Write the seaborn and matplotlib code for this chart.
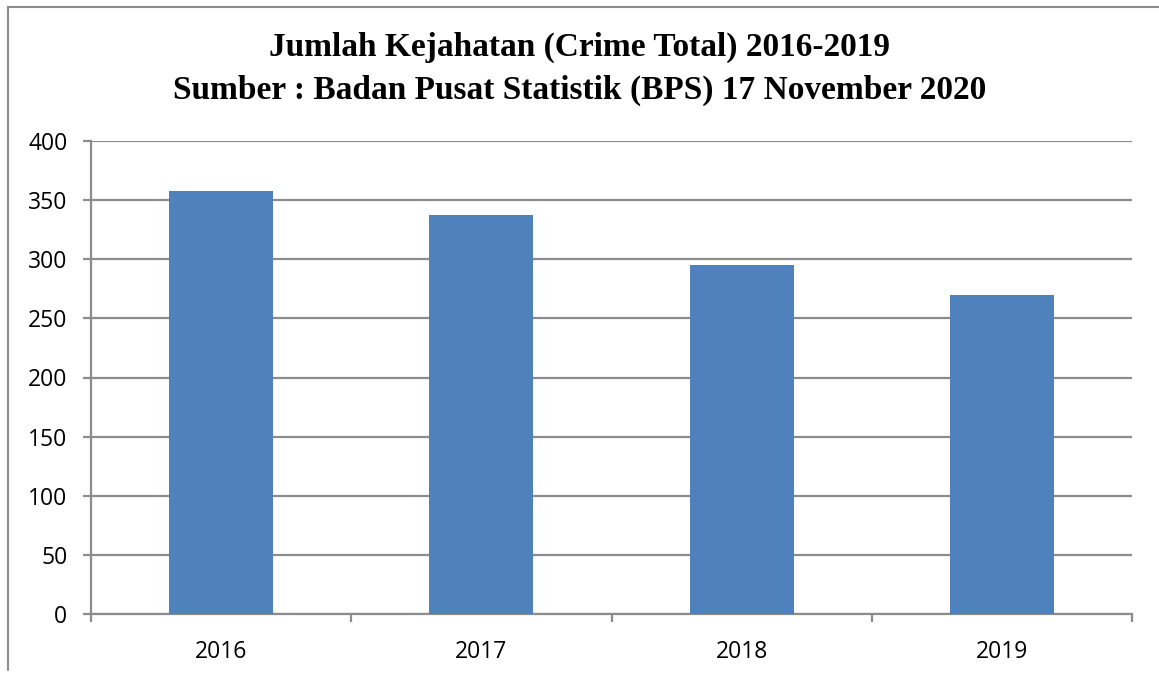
import matplotlib
matplotlib.use("Agg")
import matplotlib.pyplot as plt
import seaborn as sns
import pandas as pd
from matplotlib.lines import Line2D

years = ["2016", "2017", "2018", "2019"]
totals = [358, 337, 295, 270]
title_lines = ["Jumlah Kejahatan (Crime Total) 2016-2019",
               "Sumber : Badan Pusat Statistik (BPS) 17 November 2020"]

sns.set_style("white")
plt.rcParams['font.family'] = ['Open Sans', 'DejaVu Sans']

df = pd.DataFrame({"year": years, "total": totals})

fig = plt.figure(figsize=(11.59, 6.74), dpi=100)
ax = fig.add_axes([91/1159, 1-614/674, (1132-91)/1159, (614-141)/674])

sns.barplot(data=df, x="year", y="total", color="#4F81BD", saturation=1,
            width=0.4, ax=ax, zorder=3, linewidth=0, edgecolor="none")

ax.set_ylim(0, 400)
ax.set_xlim(-0.5, 3.5)
ax.set_yticks(range(0, 401, 50))
ax.yaxis.grid(True, color="#8C8C8C", linewidth=1.6, zorder=0)
ax.set_axisbelow(True)

for s in ["top", "right"]:
    ax.spines[s].set_visible(False)
for s in ["left", "bottom"]:
    ax.spines[s].set_color("#8C8C8C")
    ax.spines[s].set_linewidth(1.6)

ax.set_xticks([-0.5, 0.5, 1.5, 2.5, 3.5])
ax.set_xticklabels([])
ax.set_xticks([0, 1, 2, 3], minor=True)
ax.set_xticklabels(years, minor=True, fontsize=16.5, color="black")
ax.tick_params(axis="x", which="major", length=6, width=1.6, color="#8C8C8C", direction="out", bottom=True)
ax.tick_params(axis="x", which="minor", length=0, pad=19, bottom=True)
ax.tick_params(axis="y", length=6, width=1.6, color="#8C8C8C", direction="out", left=True,
               labelsize=16.5, labelcolor="black", pad=11)
ax.set_xlabel("")
ax.set_ylabel("")

fig.text(0.5, 1-47/674, title_lines[0], ha="center", va="center", color="black",
         fontsize=24, fontweight="bold", family="Liberation Serif")
fig.text(0.5, 1-90/674, title_lines[1], ha="center", va="center", color="black",
         fontsize=24, fontweight="bold", family="Liberation Serif")

fig.add_artist(Line2D([8/1159, 8/1159], [1-670/674, 1-7/674], color="#8C8C8C", linewidth=1.5, transform=fig.transFigure))
fig.add_artist(Line2D([8/1159, 1.0], [1-7/674, 1-7/674], color="#8C8C8C", linewidth=1.5, transform=fig.transFigure))

fig.savefig("out.png", dpi=100)
